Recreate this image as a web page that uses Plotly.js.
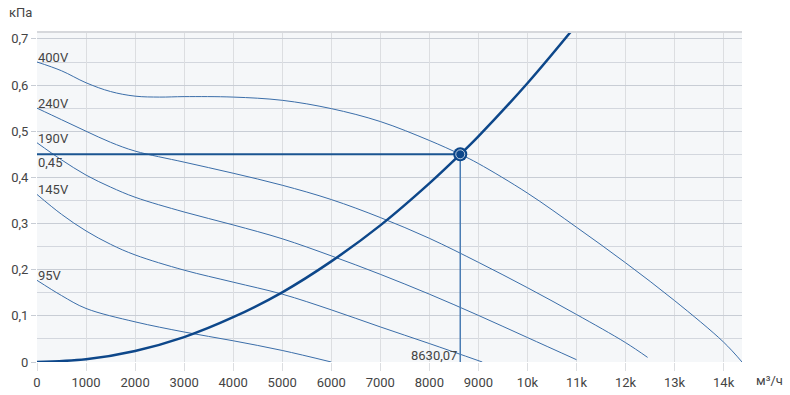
<!DOCTYPE html>
<html>
<head>
<meta charset="utf-8">
<script src="https://cdn.plot.ly/plotly-3.0.1.min.js"></script>
<style>html,body{margin:0;padding:0;background:#fff}#chart{width:790px;height:395px}</style>
</head>
<body>
<div id="chart"></div>
<script>
// Fan curves (flow m³/h, pressure kPa)
const flow400 = [0,500,1000,1500,2000,2500,3000,4000,5000,6000,7000,8000,8630.07,9000,10000,11000,12000,13000,14000,14375];
const p400    = [0.650,0.631,0.605,0.586,0.576,0.574,0.575,0.574,0.567,0.549,0.521,0.480,0.450,0.430,0.366,0.292,0.215,0.133,0.043,0];
const flow240 = [0,500,1000,1500,2000,3000,4000,5000,6000,7000,8000,9000,10000,11000,12000,12450];
const p240    = [0.550,0.525,0.500,0.476,0.457,0.433,0.409,0.383,0.352,0.313,0.268,0.216,0.161,0.103,0.042,0.010];
const flow190 = [0,500,1000,1500,2000,3000,4000,5000,6000,7000,8000,9000,10000,11000];
const p190    = [0.475,0.438,0.405,0.379,0.357,0.325,0.297,0.267,0.230,0.190,0.147,0.101,0.053,0.005];
const flow145 = [0,500,1000,1500,2000,3000,4000,5000,6000,7000,8000,9080];
const p145    = [0.363,0.320,0.284,0.255,0.232,0.199,0.173,0.147,0.113,0.076,0.040,0];
const flow95  = [0,500,1000,2000,3000,4000,5000,6000];
const p95     = [0.177,0.144,0.116,0.087,0.065,0.046,0.025,0];
// System curve
const sysFlow = [0,1000,2000,3000,4000,5000,6000,7000,8000,8630.07,9000,10000,10880];
const sysP    = [0,0.006,0.024,0.054,0.097,0.151,0.218,0.296,0.387,0.450,0.489,0.604,0.715];
// Operating point
const opFlow = 8630.07;
const opP = 0.45;
const opFlowLabel = "8630,07";
const opPLabel = "0,45";
// Labels
const curveNames = ["400V","240V","190V","145V","95V"];
const xTickVals = [0,1000,2000,3000,4000,5000,6000,7000,8000,9000,10000,11000,12000,13000,14000];
const xTickText = ["0","1000","2000","3000","4000","5000","6000","7000","8000","9000","10k","11k","12k","13k","14k"];
const yTickVals = [0,0.1,0.2,0.3,0.4,0.5,0.6,0.7];
const yTickText = ["0","0,1","0,2","0,3","0,4","0,5","0,6","0,7"];
const yUnit = "кПа";
const xUnit = "м³/ч";

const fanX = [flow400, flow240, flow190, flow145, flow95];
const fanY = [p400, p240, p190, p145, p95];

const fanColor = "#3b6ea9";
const navy = "#0d478a";
const traces = [];
fanX.forEach((xs, i) => {
  traces.push({x: xs, y: fanY[i], type: "scatter", mode: "lines",
    line: {color: fanColor, width: 1, shape: "spline", smoothing: 1},
    hoverinfo: "skip", showlegend: false});
});
traces.push({x: sysFlow, y: sysP, type: "scatter", mode: "lines",
  line: {color: navy, width: 2.5, shape: "spline", smoothing: 1},
  hoverinfo: "skip", showlegend: false});
traces.push({x: [0, opFlow], y: [opP, opP], type: "scatter", mode: "lines",
  line: {color: "#1b5591", width: 2}, hoverinfo: "skip", showlegend: false});
traces.push({x: [opFlow, opFlow], y: [0, opP], type: "scatter", mode: "lines",
  line: {color: "#4a7db4", width: 1.5}, hoverinfo: "skip", showlegend: false});
traces.push({x: [opFlow], y: [opP], type: "scatter", mode: "markers",
  marker: {size: 14, color: navy, line: {width: 0}}, hoverinfo: "skip", showlegend: false});
traces.push({x: [opFlow], y: [opP], type: "scatter", mode: "markers",
  marker: {size: 9, symbol: "circle-open", color: "rgba(255,255,255,0.7)", line: {width: 1}}, hoverinfo: "skip", showlegend: false});

const font = {family: "Roboto, 'Open Sans', sans-serif", size: 13, color: "#444"};
const annotations = [];
fanY.forEach((ys, i) => {
  annotations.push({x: 0, y: ys[0], xref: "x", yref: "y", text: curveNames[i],
    showarrow: false, xanchor: "left", yanchor: "bottom", xshift: -1, yshift: -5, font: font});
});
annotations.push({x: 0, y: opP, xref: "x", yref: "y", text: opPLabel, showarrow: false,
  xanchor: "left", yanchor: "top", xshift: -1, yshift: 1, font: font});
annotations.push({x: opFlow, y: 0, xref: "x", yref: "y", text: opFlowLabel, showarrow: false,
  xanchor: "right", yanchor: "bottom", xshift: -1, yshift: -3, font: font});
annotations.push({xref: "paper", yref: "paper", x: -0.042, y: 1.0585, xanchor: "left", yanchor: "middle",
  text: yUnit, showarrow: false, font: font});
annotations.push({xref: "paper", yref: "paper", x: 1.017, y: -0.055, xanchor: "left", yanchor: "middle",
  text: xUnit, showarrow: false, font: font});

const layout = {
  width: 790, height: 395,
  margin: {l: 37, r: 48, t: 32, b: 33, pad: 0},
  paper_bgcolor: "#ffffff",
  plot_bgcolor: "#f5f7f9",
  font: font,
  separators: ", ",
  showlegend: false,
  xaxis: {
    range: [0, 14375], tickvals: xTickVals, ticktext: xTickText,
    showgrid: true, gridcolor: "#dcdee1", gridwidth: 1,
    ticks: "outside", ticklen: 8, tickcolor: "#dcdee1",
    zeroline: false, showline: false, fixedrange: true, tickfont: font
  },
  yaxis: {
    range: [0, 0.715], tickvals: yTickVals, ticktext: yTickText,
    showgrid: true, gridcolor: "#c8cdd5", gridwidth: 1,
    minor: {dtick: 0.05, showgrid: true, gridcolor: "#d3d7de", gridwidth: 1},
    ticks: "outside", ticklen: 5, tickcolor: "#c8cdd5",
    zeroline: false, showline: false, fixedrange: true, tickfont: font
  },
  shapes: [
    {type: "line", xref: "paper", yref: "paper", x0: 0, x1: 1, y0: 1, y1: 1,
     line: {color: "#d6d8dc", width: 2}}
  ],
  annotations: annotations
};

Plotly.newPlot("chart", traces, layout, {displayModeBar: false, staticPlot: true});
</script>
</body>
</html>
